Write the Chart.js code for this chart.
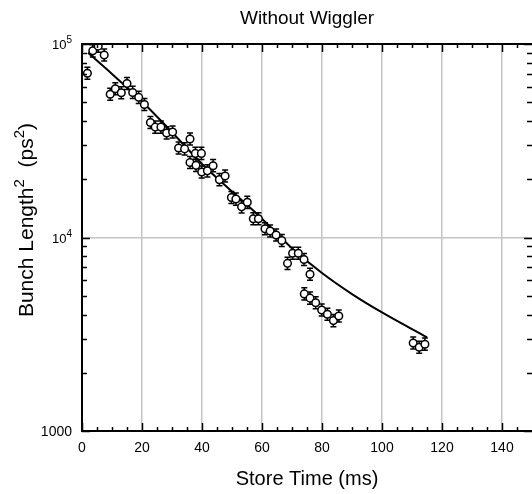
<!DOCTYPE html>
<html>
<head>
<meta charset="utf-8">
<script src="https://cdn.jsdelivr.net/npm/chart.js@4.4.0/dist/chart.umd.min.js"></script>
<style>
  html, body { margin: 0; padding: 0; background: #fff; }
  #wrap { width: 532px; height: 494px; }
</style>
</head>
<body>
<div id="wrap"><canvas id="chart" width="532" height="494"></canvas></div>
<script>
// measured points (ms, ps^2)
const storeTime = [1.8, 3.6, 5.4, 7.4, 9.4, 11.1, 13.1, 15.0, 16.9, 18.9,
    20.8, 22.8, 24.4, 26.3, 28.2, 30.2, 32.2, 34.2, 36.0, 36.0,
    37.8, 38.0, 39.8, 39.9, 41.8, 43.7, 45.8, 47.7, 49.8, 51.3,
    53.2, 55.1, 57.1, 58.8, 61.0, 62.7, 64.7, 66.6, 68.5, 70.2,
    72.1, 74.0, 76.0, 74.1, 76.0, 77.9, 79.9, 81.8, 83.8, 85.6,
    110.4, 112.4, 114.3];
const bunchLen2 = [70600, 92200, 97500, 87700, 55000, 58700, 56000, 62500, 56200, 53000,
    48700, 39300, 37200, 37200, 34700, 35100, 29000, 28700, 32300, 24400,
    27200, 23600, 27200, 21800, 22100, 23500, 19900, 20800, 16100, 15800,
    14400, 15200, 12500, 12500, 11100, 10800, 10300, 9650, 7350, 8290,
    8290, 7700, 6460, 5110, 4860, 4600, 4220, 4010, 3720, 3930,
    2850, 2710, 2810];
const errFrac = 0.075;

// fitted curve
const fitTime = [2, 10, 20, 30, 40, 50, 60, 66, 70, 80, 90, 100, 115];
const fitValue = [90000, 70000, 50500, 35000, 24000, 17300, 12500, 10100, 8800, 6550, 5100, 4100, 3050];

const xTicks = [0, 20, 40, 60, 80, 100, 120, 140];
const xMinor = [];
for (let v = 5; v < 150; v += 5) if (v % 20 !== 0) xMinor.push(v);
const yMajor = [1000, 10000, 100000];
const yMinor = [2000, 3000, 4000, 5000, 6000, 7000, 8000, 9000,
    20000, 30000, 40000, 50000, 60000, 70000, 80000, 90000];

const FONT = "Arial, 'Liberation Sans', sans-serif";

function drawParts(ctx, parts, x, y, align) {
    let w = 0;
    parts.forEach(p => { ctx.font = p.size + "px " + FONT; w += ctx.measureText(p.t).width; });
    let cx = align === "right" ? x - w : (align === "center" ? x - w / 2 : x);
    parts.forEach(p => {
        ctx.font = p.size + "px " + FONT;
        ctx.fillText(p.t, cx, y + (p.dy || 0));
        cx += ctx.measureText(p.t).width;
    });
}

const errorBars = {
    id: "errorBars",
    beforeDatasetsDraw(chart) {
        const ctx = chart.ctx, ys = chart.scales.y, a = chart.chartArea;
        const meta = chart.getDatasetMeta(0);
        ctx.save();
        ctx.beginPath();
        ctx.rect(a.left, a.top, a.right - a.left, a.bottom - a.top);
        ctx.clip();
        ctx.strokeStyle = "#000";
        ctx.lineWidth = 1.5;
        meta.data.forEach((pt, i) => {
            const v = bunchLen2[i];
            const top = ys.getPixelForValue(v * (1 + errFrac));
            const bot = ys.getPixelForValue(v / (1 + errFrac));
            ctx.beginPath();
            ctx.moveTo(pt.x, top); ctx.lineTo(pt.x, bot);
            ctx.moveTo(pt.x - 3, top); ctx.lineTo(pt.x + 3, top);
            ctx.moveTo(pt.x - 3, bot); ctx.lineTo(pt.x + 3, bot);
            ctx.stroke();
        });
        ctx.restore();
    }
};

const frame = {
    id: "frame",
    afterDraw(chart) {
        const ctx = chart.ctx, a = chart.chartArea;
        const xs = chart.scales.x, ys = chart.scales.y;
        ctx.save();
        ctx.strokeStyle = "#000";
        ctx.lineWidth = 2;
        ctx.beginPath();
        ctx.moveTo(a.left, a.top); ctx.lineTo(a.right, a.top);
        ctx.moveTo(a.left, a.top - 1); ctx.lineTo(a.left, a.bottom + 1);
        ctx.moveTo(a.left - 1, a.bottom); ctx.lineTo(a.right, a.bottom);
        ctx.stroke();

        ctx.lineWidth = 1.5;
        ctx.beginPath();
        xTicks.forEach(v => {
            const px = Math.round(xs.getPixelForValue(v)) + 0.5;
            ctx.moveTo(px, a.bottom); ctx.lineTo(px, a.bottom - 8);
            ctx.moveTo(px, a.top); ctx.lineTo(px, a.top + 8);
        });
        xMinor.forEach(v => {
            const px = Math.round(xs.getPixelForValue(v)) + 0.5;
            ctx.moveTo(px, a.bottom); ctx.lineTo(px, a.bottom - 4);
            ctx.moveTo(px, a.top); ctx.lineTo(px, a.top + 4);
        });
        yMinor.forEach(v => {
            const py = Math.round(ys.getPixelForValue(v)) + 0.5;
            ctx.moveTo(a.left, py); ctx.lineTo(a.left + 5, py);
            ctx.moveTo(a.right, py); ctx.lineTo(a.right - 5, py);
        });
        yMajor.forEach(v => {
            const py = Math.round(ys.getPixelForValue(v)) + 0.5;
            ctx.moveTo(a.left, py); ctx.lineTo(a.left + 8, py);
            ctx.moveTo(a.right, py); ctx.lineTo(a.right - 8, py);
        });
        ctx.stroke();

        // y tick labels
        ctx.fillStyle = "#000";
        ctx.textBaseline = "alphabetic";
        yMajor.forEach(v => {
            const py = ys.getPixelForValue(v);
            const exp = Math.round(Math.log10(v));
            if (v === 1000) {
                drawParts(ctx, [{ t: "1000", size: 14 }], a.left - 10, py + 5, "right");
            } else {
                drawParts(ctx, [{ t: "10", size: 13 }, { t: String(exp), size: 10, dy: -6 }], a.left - 10, py + 5, "right");
            }
        });

        // titles
        const cx = (a.left + a.right) / 2;
        drawParts(ctx, [{ t: "Without Wiggler", size: 19 }], cx, 24, "center");
        drawParts(ctx, [{ t: "Store Time (ms)", size: 20 }], cx, 485, "center");

        ctx.save();
        ctx.translate(33, 220);
        ctx.rotate(-Math.PI / 2);
        drawParts(ctx, [
            { t: "Bunch Length", size: 21 },
            { t: "2", size: 15, dy: -9 },
            { t: "  (ps", size: 21 },
            { t: "2", size: 15, dy: -9 },
            { t: ")", size: 21 }
        ], 0, 0, "center");
        ctx.restore();
        ctx.restore();
    }
};

new Chart(document.getElementById("chart"), {
    data: {
        datasets: [
            {
                type: "scatter",
                data: storeTime.map((t, i) => ({ x: t, y: bunchLen2[i] })),
                pointStyle: "circle",
                pointRadius: 3.8,
                pointBackgroundColor: "#fff",
                pointBorderColor: "#000",
                pointBorderWidth: 1.5,
                pointHoverRadius: 3.8
            },
            {
                type: "line",
                data: fitTime.map((t, i) => ({ x: t, y: fitValue[i] })),
                borderColor: "#000",
                borderWidth: 2,
                pointRadius: 0,
                fill: false,
                cubicInterpolationMode: "monotone"
            }
        ]
    },
    options: {
        responsive: false,
        animation: false,
        events: [],
        layout: { autoPadding: false, padding: { top: 44, right: -1, left: 0, bottom: 0 } },
        plugins: { legend: { display: false }, tooltip: { enabled: false }, title: { display: false } },
        scales: {
            x: {
                type: "linear",
                min: 0,
                max: 150,
                afterBuildTicks: s => { s.ticks = xTicks.map(v => ({ value: v })); },
                afterFit: s => { s.height = 63; },
                grid: {
                    color: c => (c.tick && c.tick.value === 0 ? "rgba(0,0,0,0)" : "#c4c4c4"),
                    lineWidth: 1.5,
                    drawTicks: false
                },
                border: { display: false },
                ticks: { color: "#000", font: { family: FONT, size: 14 }, padding: 9, maxRotation: 0 }
            },
            y: {
                type: "logarithmic",
                min: 1000,
                max: 100000,
                afterBuildTicks: s => { s.ticks = yMajor.map(v => ({ value: v })); },
                afterFit: s => { s.width = 82; },
                grid: {
                    color: c => (c.tick && c.tick.value === 10000 ? "#c4c4c4" : "rgba(0,0,0,0)"),
                    lineWidth: 1.5,
                    drawTicks: false
                },
                border: { display: false },
                ticks: { display: false }
            }
        }
    },
    plugins: [errorBars, frame]
});
</script>
</body>
</html>
